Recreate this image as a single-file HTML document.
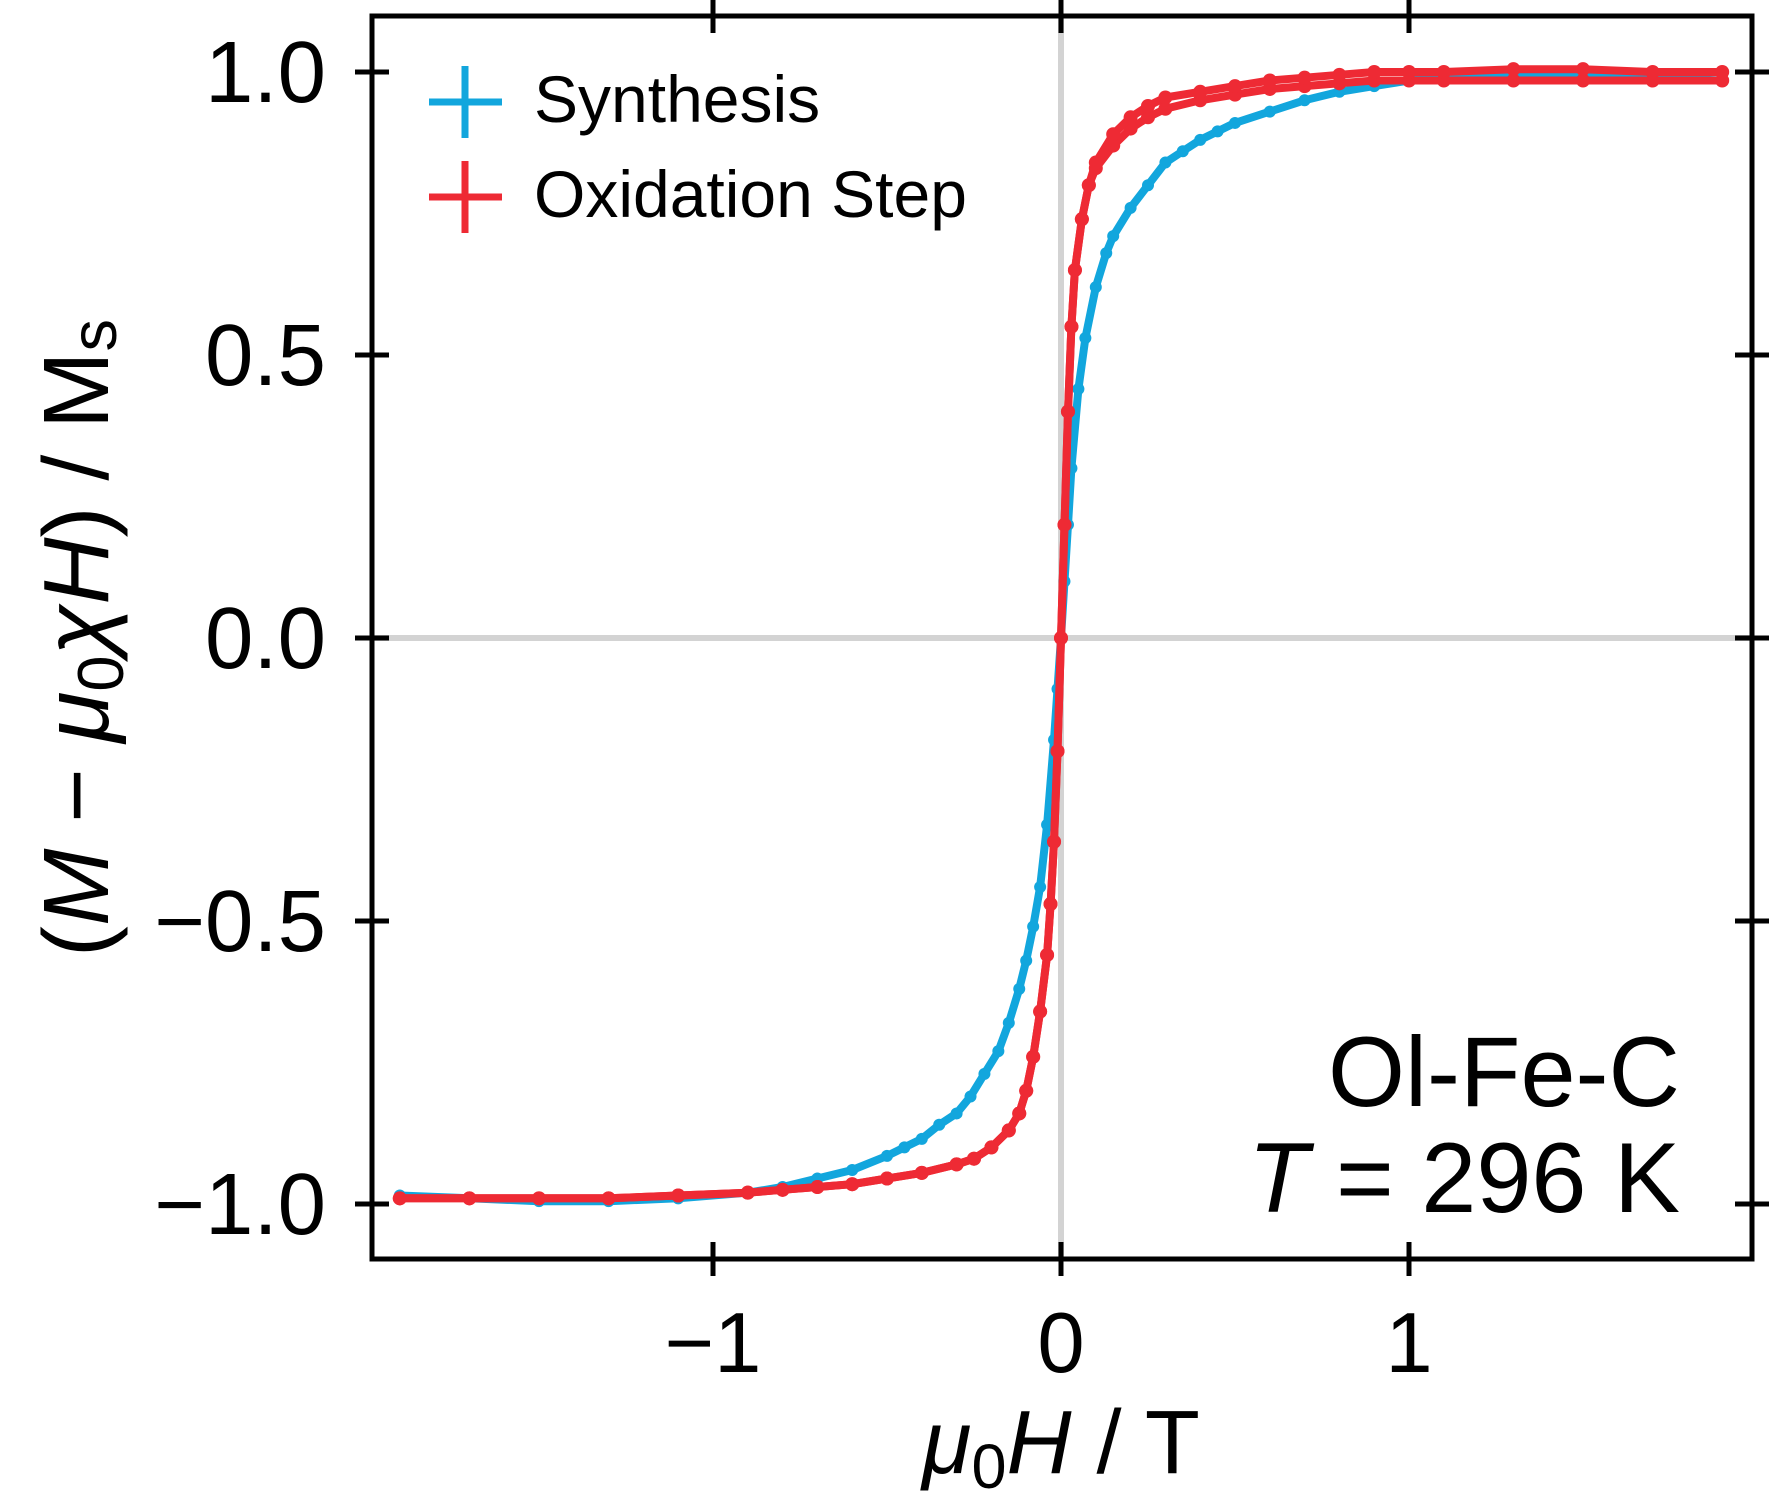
<!DOCTYPE html>
<html><head><meta charset="utf-8">
<style>
html,body{margin:0;padding:0;background:#fff;}
svg{display:block;font-family:"Liberation Sans",sans-serif;}
</style></head>
<body>
<svg id="chart" width="1770" height="1500" viewBox="0 0 1770 1500" xmlns="http://www.w3.org/2000/svg">
<g id="grid"></g>
<g id="series"></g>
<g id="axes"></g>
<g>
  <line x1="429" y1="102" x2="502" y2="102" stroke="#12a6dd" stroke-width="7"/>
  <line x1="465" y1="66" x2="465" y2="138" stroke="#12a6dd" stroke-width="7"/>
  <text x="534" y="122" font-size="66">Synthesis</text>
  <line x1="429" y1="197" x2="502" y2="197" stroke="#ee2a34" stroke-width="7"/>
  <line x1="465" y1="161" x2="465" y2="233" stroke="#ee2a34" stroke-width="7"/>
  <text x="534" y="217" font-size="66">Oxidation Step</text>
</g>
<text x="1680" y="1106" font-size="99" text-anchor="end">Ol-Fe-C</text>
<text x="1680" y="1212" font-size="99" text-anchor="end"><tspan font-style="italic">T</tspan> = 296 K</text>
<text x="1061" y="1473" font-size="90" text-anchor="middle"><tspan font-style="italic">μ</tspan><tspan font-size="63" dy="15">0</tspan><tspan font-style="italic" dy="-15">H</tspan> / T</text>
<text transform="translate(108,638) rotate(-90)" font-size="93" text-anchor="middle">(<tspan font-style="italic">M</tspan> − <tspan font-style="italic">μ</tspan><tspan font-size="65" dy="15">0</tspan><tspan font-style="italic" dy="-15">χH</tspan>) / M<tspan font-size="65" dy="8">s</tspan></text>
</svg>
<script>
const xTicks=[-1,0,1];
const xTickLabels=["−1","0","1"];
const yTicks=[-1,-0.5,0,0.5,1];
const yTickLabels=["−1.0","−0.5","0.0","0.5","1.0"];
const synH=[-1.9,-1.7,-1.5,-1.3,-1.1,-0.9,-0.8,-0.7,-0.6,-0.5,-0.45,-0.4,-0.35,-0.3,-0.26,-0.22,-0.18,-0.15,-0.12,-0.1,-0.08,-0.06,-0.04,-0.02,-0.01,0,0.01,0.02,0.03,0.05,0.07,0.1,0.13,0.15,0.2,0.25,0.3,0.35,0.4,0.45,0.5,0.6,0.7,0.8,0.9,1.0,1.1,1.3,1.5,1.7,1.9];
const synM=[-0.985,-0.99,-0.995,-0.995,-0.99,-0.98,-0.97,-0.955,-0.94,-0.915,-0.9,-0.885,-0.86,-0.84,-0.81,-0.77,-0.73,-0.68,-0.62,-0.57,-0.51,-0.44,-0.33,-0.18,-0.09,0,0.1,0.2,0.3,0.44,0.53,0.62,0.68,0.71,0.76,0.8,0.84,0.86,0.88,0.895,0.91,0.93,0.95,0.965,0.975,0.985,0.99,0.995,0.995,0.99,0.985];
const oxH=[-1.9,-1.7,-1.5,-1.3,-1.1,-0.9,-0.8,-0.7,-0.6,-0.5,-0.4,-0.3,-0.25,-0.2,-0.15,-0.12,-0.1,-0.08,-0.06,-0.04,-0.03,-0.02,-0.01,0,0.01,0.02,0.03,0.04,0.06,0.08,0.1,0.15,0.2,0.25,0.3,0.4,0.5,0.6,0.7,0.8,0.9,1.0,1.1,1.3,1.5,1.7,1.9];
const oxM=[-0.99,-0.99,-0.99,-0.99,-0.985,-0.98,-0.975,-0.97,-0.965,-0.955,-0.945,-0.93,-0.92,-0.9,-0.87,-0.84,-0.8,-0.74,-0.66,-0.56,-0.47,-0.36,-0.2,0,0.2,0.4,0.55,0.65,0.74,0.8,0.84,0.89,0.92,0.94,0.955,0.965,0.975,0.985,0.99,0.995,1.0,1.0,1.0,1.005,1.005,1.0,1.0];
const oxM2=[-0.99,-0.99,-0.99,-0.99,-0.985,-0.98,-0.975,-0.97,-0.965,-0.955,-0.945,-0.93,-0.92,-0.9,-0.87,-0.84,-0.8,-0.74,-0.66,-0.56,-0.47,-0.36,-0.2,0,0.2,0.4,0.55,0.65,0.74,0.8,0.83,0.87,0.9,0.92,0.935,0.95,0.96,0.97,0.975,0.98,0.985,0.985,0.985,0.985,0.985,0.985,0.985];

const NS="http://www.w3.org/2000/svg";
const L=372,R=1752,T=16,B=1259;
const sx=h=>1061+h*348;
const sy=m=>638-m*566;
function mk(tag,attrs,parent){const e=document.createElementNS(NS,tag);for(const k in attrs)e.setAttribute(k,attrs[k]);parent.appendChild(e);return e;}
const grid=document.getElementById('grid'),series=document.getElementById('series'),axes=document.getElementById('axes');
let g1=mk('line',{x1:sx(0),x2:sx(0),y1:T,y2:B,stroke:'#d3d3d3','stroke-width':6},grid);


let g2=mk('line',{x1:L,x2:R,y1:sy(0),y2:sy(0),stroke:'#d3d3d3','stroke-width':6},grid);


function drawSeries(H,M,color,name,r){
  const g=mk('g',{},series);
  
  
  const pts=H.map((h,i)=>sx(h).toFixed(1)+','+sy(M[i]).toFixed(1)).join(' ');
  const pl=mk('polyline',{points:pts,fill:'none',stroke:color,'stroke-width':8,'stroke-linejoin':'round'},g);
  
  
  H.forEach((h,i)=>{const c=mk('circle',{cx:sx(h),cy:sy(M[i]),r:r,fill:color},g);
    
    });
}
drawSeries(synH,synM,'#12a6dd','synthesis-series',6);
drawSeries(oxH,oxM2,'#ee2a34','oxidation-series-return',7);
drawSeries(oxH,oxM,'#ee2a34','oxidation-series',7);
let fr=mk('rect',{x:L,y:T,width:R-L,height:B-T,fill:'none',stroke:'#000','stroke-width':5},axes);


xTicks.forEach((v,i)=>{
  [[B-17,B+17],[T-17,T+17]].forEach(([a,b])=>{const t=mk('line',{x1:sx(v),x2:sx(v),y1:a,y2:b,stroke:'#000','stroke-width':5},axes);
    
    });
  const tx=mk('text',{x:sx(v),y:1372,'font-size':85,'text-anchor':'middle'},axes);
  tx.textContent=xTickLabels[i];
  
  
});
yTicks.forEach((v,i)=>{
  [[L-17,L+17],[R-17,R+17]].forEach(([a,b])=>{const t=mk('line',{x1:a,x2:b,y1:sy(v),y2:sy(v),stroke:'#000','stroke-width':5},axes);
    
    });
  const tx=mk('text',{x:326,y:sy(v)+30,'font-size':87,'text-anchor':'end'},axes);
  tx.textContent=yTickLabels[i];
  
  
});
</script>
</body></html>
